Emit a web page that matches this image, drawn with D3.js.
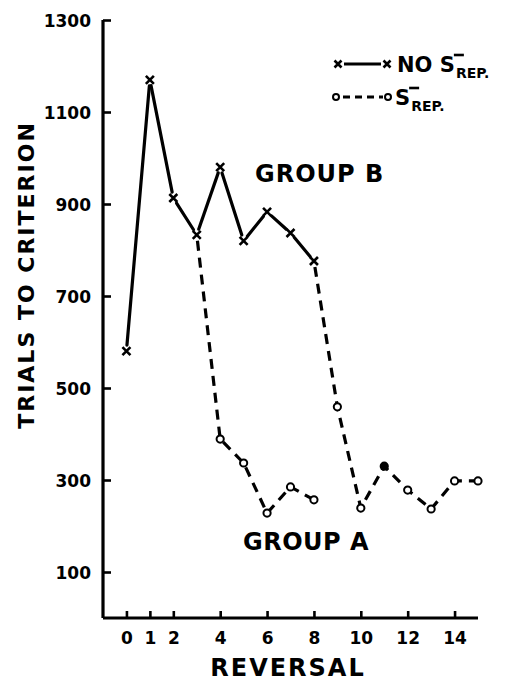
<!DOCTYPE html>
<html>
<head>
<meta charset="utf-8">
<script src="https://cdn.jsdelivr.net/npm/d3@7"></script>
<style>
  body { margin: 0; background: #fff; }
  text { font-family: "DejaVu Sans", sans-serif; font-weight: bold; fill: #000; }
</style>
</head>
<body>
<div id="chart"></div>
<script>
// data
const reversals = [0, 1, 2, 3, 4, 5, 6, 7, 8, 9, 10, 11, 12, 13, 14, 15];
const noRepB = [580, 1170, 913, 833, 980, 820, 883, 837, 776];          // reversals 0-8, x markers
const repA = [[3, 833], [4, 389], [5, 337], [6, 228], [7, 285], [8, 257]];
const repB = [[8, 776], [9, 459], [10, 239], [11, 330], [12, 278], [13, 237], [14, 298], [15, 298]];
const filledRep = [11];
const xTicks = [0, 1, 2, 4, 6, 8, 10, 12, 14];
const yTicks = [100, 300, 500, 700, 900, 1100, 1300];

const width = 525, height = 683;
const svg = d3.select('#chart').append('svg')
  .attr('width', width).attr('height', height);

const x = d3.scaleLinear().domain([-1, 15]).range([103, 478]);
const y = d3.scaleLinear().domain([0, 1300]).range([618, 20]);

// axes
const xAxis = svg.append('g').attr('transform', `translate(0,${y(0)})`)
  .call(d3.axisBottom(x).tickValues(xTicks).tickSize(-7).tickPadding(14).tickFormat(d3.format('d')));
const yAxis = svg.append('g').attr('transform', `translate(${x(-1)},0)`)
  .call(d3.axisLeft(y).tickValues(yTicks).tickSize(-8).tickPadding(12).tickFormat(d3.format('d')));
[xAxis, yAxis].forEach(a => {
  a.select('.domain').attr('stroke', '#000').attr('stroke-width', 3.2);
  a.selectAll('.tick line').attr('stroke', '#000').attr('stroke-width', 2.6);
  a.selectAll('.tick text').style('font-size', '17px').attr('fill', '#000');
});
xAxis.select('.domain').attr('d', `M${x(-1)},0H${x(15)}`);
yAxis.select('.domain').attr('d', `M0,${y(0)}V${y(1300)}`);
yAxis.selectAll('.tick text').attr('dy', '0.36em');

// axis titles
svg.append('text')
  .attr('transform', `translate(34,${275}) rotate(-90)`)
  .attr('text-anchor', 'middle')
  .style('font-size', '22px').style('letter-spacing', '2px')
  .text('TRIALS TO CRITERION');
svg.append('text')
  .attr('x', 288).attr('y', 676)
  .attr('text-anchor', 'middle')
  .style('font-size', '24px').style('letter-spacing', '2px')
  .text('REVERSAL');

// segments shortened near markers, like the original drawing
function segs(points, gap) {
  const out = [];
  for (let i = 0; i < points.length - 1; i++) {
    const [x1, y1] = [x(points[i][0]), y(points[i][1])];
    const [x2, y2] = [x(points[i + 1][0]), y(points[i + 1][1])];
    const len = Math.hypot(x2 - x1, y2 - y1);
    const ux = (x2 - x1) / len, uy = (y2 - y1) / len;
    out.push([x1 + ux * gap, y1 + uy * gap, x2 - ux * gap, y2 - uy * gap]);
  }
  return out;
}

const solidPts = noRepB.map((v, i) => [reversals[i], v]);
svg.append('g').selectAll('line.solid')
  .data(segs(solidPts, 6))
  .join('line').classed('solid', true)
  .attr('x1', d => d[0]).attr('y1', d => d[1]).attr('x2', d => d[2]).attr('y2', d => d[3])
  .attr('stroke', '#000').attr('stroke-width', 3.2).attr('stroke-linecap', 'round');

const line = d3.line().x(d => x(d[0])).y(d => y(d[1]));
[repA, repB].forEach(s => {
  svg.append('path').datum(s)
    .attr('d', line)
    .attr('fill', 'none').attr('stroke', '#000').attr('stroke-width', 3.2)
    .attr('stroke-dasharray', '10,7').attr('stroke-dashoffset', -6);
});

// circle markers
const circles = repA.slice(1).concat(repB.slice(1));
svg.append('g').selectAll('circle')
  .data(circles)
  .join('circle')
  .attr('cx', d => x(d[0])).attr('cy', d => y(d[1])).attr('r', 3.6)
  .attr('fill', d => filledRep.includes(d[0]) ? '#000' : '#fff')
  .attr('stroke', '#000').attr('stroke-width', 2);

// x markers
function cross(g, cx, cy, s) {
  g.append('path')
    .attr('d', `M${cx - s},${cy - s}L${cx + s},${cy + s}M${cx - s},${cy + s}L${cx + s},${cy - s}`)
    .attr('stroke', '#000').attr('stroke-width', 2.6);
}
const xm = svg.append('g');
solidPts.forEach(p => cross(xm, x(p[0]), y(p[1]), 4));

// group labels
svg.append('text').attr('x', 255).attr('y', 182)
  .style('font-size', '24px').style('letter-spacing', '1px').text('GROUP B');
svg.append('text').attr('x', 243).attr('y', 550)
  .style('font-size', '24px').style('letter-spacing', '0.5px').text('GROUP A');

// legend
const leg = svg.append('g');
function sLabel(x0, yb, prefix) {
  const t = leg.append('text').attr('x', x0).attr('y', yb)
    .style('font-size', '21px').text(prefix + 'S');
  const w = t.node().getComputedTextLength();
  leg.append('line')
    .attr('x1', x0 + w - 1).attr('x2', x0 + w + 9)
    .attr('y1', yb - 17).attr('y2', yb - 17)
    .attr('stroke', '#000').attr('stroke-width', 2.6);
  leg.append('text').attr('x', x0 + w + 1).attr('y', yb + 6)
    .style('font-size', '14px').text('REP.');
}
cross(leg, 338, 64, 3.5);
cross(leg, 387, 64, 3.5);
leg.append('line').attr('x1', 344).attr('x2', 381).attr('y1', 64).attr('y2', 64)
  .attr('stroke', '#000').attr('stroke-width', 3);
sLabel(397, 72, 'NO ');

leg.append('line').attr('x1', 341).attr('x2', 383).attr('y1', 97).attr('y2', 97)
  .attr('stroke', '#000').attr('stroke-width', 3).attr('stroke-dasharray', '7,5').attr('stroke-dashoffset', -2);
[336, 388].forEach(cx => leg.append('circle').attr('cx', cx).attr('cy', 97).attr('r', 3)
  .attr('fill', '#fff').attr('stroke', '#000').attr('stroke-width', 2));
sLabel(395, 105, '');
</script>
</body>
</html>
